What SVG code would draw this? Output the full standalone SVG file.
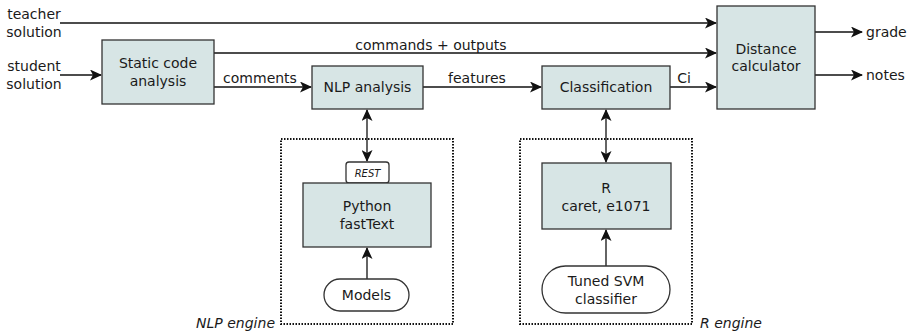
<svg xmlns="http://www.w3.org/2000/svg" width="910" height="332" viewBox="0 0 910 332">
<style>
text{font-family:"DejaVu Sans",sans-serif;font-size:14px;fill:#1a1a1a}
.c{text-anchor:middle}
.box{fill:#d7e5e5;stroke:#333;stroke-width:1.3}
.term{fill:#fff;stroke:#333;stroke-width:1.3}
.dot{fill:none;stroke:#111;stroke-width:2;stroke-dasharray:1.5 1.5}
.ln{fill:none;stroke:#111;stroke-width:1.3}
.it{font-style:italic}
</style>
<defs>
<marker id="ah" viewBox="0 0 12 11" refX="11" refY="5.5" markerWidth="12" markerHeight="11" markerUnits="userSpaceOnUse" orient="auto-start-reverse">
<path d="M0,0 L12,5.5 L0,11 L3,5.5 Z" fill="#111"/>
</marker>
</defs>
<g id="connectors">
<path class="ln" d="M60,23 H716" marker-end="url(#ah)"/>
<path class="ln" d="M60,75 H101" marker-end="url(#ah)"/>
<path class="ln" d="M214,53 H716" marker-end="url(#ah)"/>
<path class="ln" d="M214,87 H311" marker-end="url(#ah)"/>
<path class="ln" d="M423,87 H541" marker-end="url(#ah)"/>
<path class="ln" d="M670,87 H716" marker-end="url(#ah)"/>
<path class="ln" d="M815,32 H862" marker-end="url(#ah)"/>
<path class="ln" d="M815,75 H862" marker-end="url(#ah)"/>
<path class="ln" d="M367,110 V161" marker-start="url(#ah)" marker-end="url(#ah)"/>
<path class="ln" d="M367,279 V248" marker-end="url(#ah)"/>
<path class="ln" d="M606,110 V162" marker-start="url(#ah)" marker-end="url(#ah)"/>
<path class="ln" d="M606,266 V230" marker-end="url(#ah)"/>
<text x="431" y="50" class="c">commands + outputs</text>
<text x="260" y="83" class="c">comments</text>
<text x="477" y="83" class="c">features</text>
<text x="684" y="83" class="c">Ci</text>
</g>
<g id="teacher"><text x="34" y="19" class="c">teacher</text><text x="34" y="37" class="c">solution</text></g>
<g id="student"><text x="34" y="71" class="c">student</text><text x="34" y="89" class="c">solution</text></g>
<g id="static"><rect class="box" x="102" y="40" width="112" height="64"/><text x="158" y="68" class="c">Static code</text><text x="158" y="86" class="c">analysis</text></g>
<g id="nlp"><rect class="box" x="312" y="66" width="111" height="43"/><text x="367.5" y="92" class="c">NLP analysis</text></g>
<g id="classification"><rect class="box" x="542" y="66" width="128" height="43"/><text x="606" y="92" class="c">Classification</text></g>
<g id="distance"><rect class="box" x="717" y="6" width="98" height="103"/><text x="766" y="54" class="c">Distance</text><text x="766" y="71" class="c">calculator</text></g>
<g id="grade"><text x="866" y="37">grade</text></g>
<g id="notes"><text x="866" y="80">notes</text></g>
<g id="nlp-engine">
<rect class="dot" x="281" y="139" width="172" height="185"/>
<text x="275" y="328" class="it" text-anchor="end">NLP engine</text>
</g>
<g id="rest"><rect class="term" x="346" y="162" width="43" height="21" rx="3"/><text x="367.5" y="177" class="c it" style="font-size:10px">REST</text></g>
<g id="python"><rect class="box" x="303" y="183" width="128" height="64"/><text x="367" y="211" class="c">Python</text><text x="367" y="229" class="c">fastText</text></g>
<g id="models"><rect class="term" x="324" y="279" width="85" height="32" rx="16"/><text x="366.5" y="300" class="c">Models</text></g>
<g id="r-engine">
<rect class="dot" x="520" y="139" width="172" height="185"/>
<text x="700" y="328" class="it">R engine</text>
</g>
<g id="r"><rect class="box" x="542" y="163" width="129" height="66"/><text x="606" y="193" class="c">R</text><text x="606" y="211" class="c">caret, e1071</text></g>
<g id="svm"><rect class="term" x="542" y="266" width="128" height="47" rx="23.5"/><text x="606" y="286" class="c">Tuned SVM</text><text x="606" y="304" class="c">classifier</text></g>
</svg>
